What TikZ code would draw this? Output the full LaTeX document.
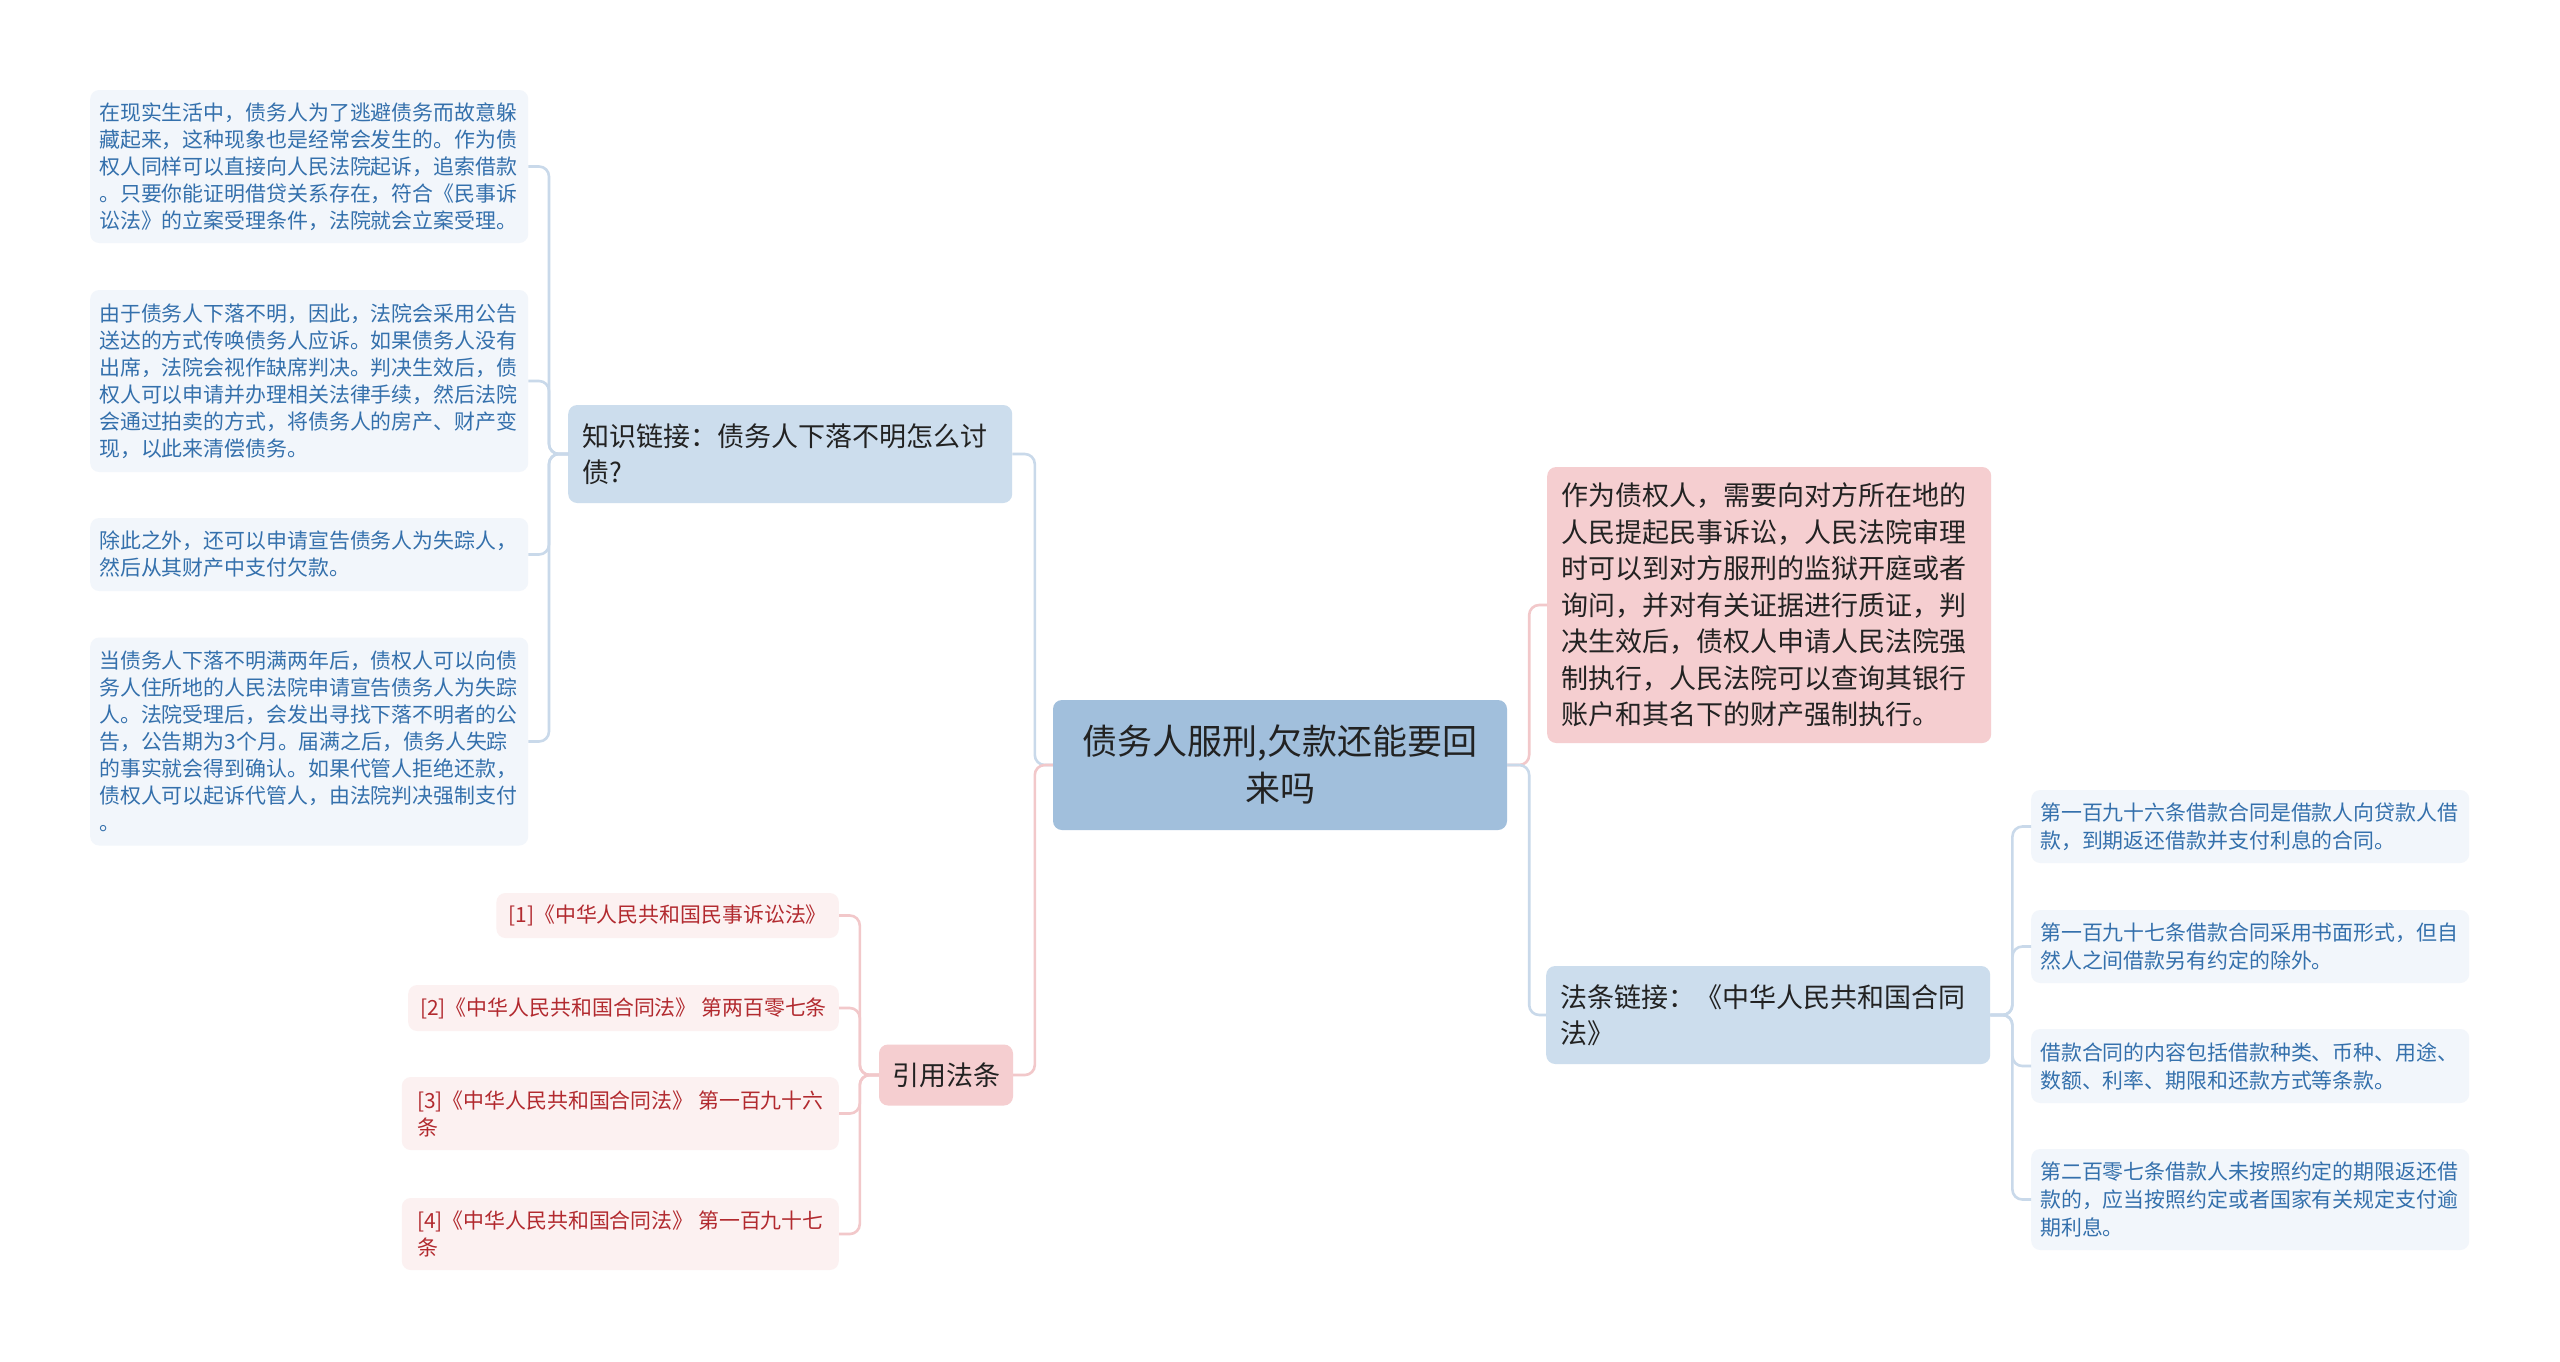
\documentclass[tikz,border=0pt]{standalone}
\usepackage{fontspec}
\newfontfamily\cjk{Noto Sans CJK SC}
\definecolor{rootfill}{HTML}{A1BFDC}
\definecolor{bluefill}{HTML}{CCDDED}
\definecolor{pinkfill}{HTML}{F5CED0}
\definecolor{leafblue}{HTML}{F2F6FB}
\definecolor{leafpink}{HTML}{FCF1F1}
\definecolor{bluetext}{HTML}{3470AC}
\definecolor{redtext}{HTML}{B22A2F}
\definecolor{maintext}{HTML}{222222}
\definecolor{blueline}{HTML}{C9D9EA}
\definecolor{pinkline}{HTML}{F2C8CA}
\tikzset{
  box/.style={rounded corners=9pt, inner ysep=0pt},
  mainbox/.style={box, text=maintext, font=\cjk\fontsize{27}{36.5}\selectfont, align=left, inner xsep=14pt, text width=416pt, anchor=west},
  leafL/.style={box, fill=leafblue, text=bluetext, font=\cjk\fontsize{20.9}{27}\selectfont, align=left, text width=420pt, inner xsep=9pt, anchor=west},
  leafR/.style={leafL, font=\cjk\fontsize{20.9}{28}\selectfont},
  leafP/.style={box, fill=leafpink, text=redtext, font=\cjk\fontsize{20.9}{27}\selectfont, align=left, inner xsep=12pt, anchor=east},
  bline/.style={draw=blueline, line width=2.6pt, rounded corners=10pt},
  pline/.style={draw=pinkline, line width=2.6pt, rounded corners=10pt},
}
\begin{document}
\begin{tikzpicture}[x=1pt,y=-1pt]
\useasboundingbox (0,0) rectangle (2560,1361);
\fill[white] (0,0) rectangle (2560,1361);

% root
\node[box, fill=rootfill, text=maintext, font=\cjk\fontsize{35}{47}\selectfont, align=center, minimum width=454pt, minimum height=130pt] (root) at (1280,765) {债务人服刑,欠款还能要回\\来吗};

% left main
\node[mainbox, fill=bluefill, minimum height=98pt] (kn) at (568,454) {知识链接：债务人下落不明怎么讨\\债?};
\node[box, fill=pinkfill, text=maintext, font=\cjk\fontsize{27}{36}\selectfont, minimum width=134pt, minimum height=61pt] (ref) at (946,1075) {引用法条};

% right main
\node[mainbox, fill=pinkfill, minimum height=276pt] (pk) at (1547,605) {作为债权人，需要向对方所在地的\\人民提起民事诉讼，人民法院审理\\时可以到对方服刑的监狱开庭或者\\询问，并对有关证据进行质证，判\\决生效后，债权人申请人民法院强\\制执行，人民法院可以查询其银行\\账户和其名下的财产强制执行。};
\node[mainbox, fill=bluefill, minimum height=98pt] (law) at (1546,1015) {法条链接：《中华人民共和国合同\\法》};

% left leaves
\node[leafL, minimum height=153pt] (L1) at (90,166.5) {在现实生活中，债务人为了逃避债务而故意躲\\藏起来，这种现象也是经常会发生的。作为债\\权人同样可以直接向人民法院起诉，追索借款\\。只要你能证明借贷关系存在，符合《民事诉\\讼法》的立案受理条件，法院就会立案受理。};
\node[leafL, minimum height=182pt] (L2) at (90,381) {由于债务人下落不明，因此，法院会采用公告\\送达的方式传唤债务人应诉。如果债务人没有\\出席，法院会视作缺席判决。判决生效后，债\\权人可以申请并办理相关法律手续，然后法院\\会通过拍卖的方式，将债务人的房产、财产变\\现，以此来清偿债务。};
\node[leafL, minimum height=73pt] (L3) at (90,554.5) {除此之外，还可以申请宣告债务人为失踪人，\\然后从其财产中支付欠款。};
\node[leafL, minimum height=208pt] (L4) at (90,741.5) {当债务人下落不明满两年后，债权人可以向债\\务人住所地的人民法院申请宣告债务人为失踪\\人。法院受理后，会发出寻找下落不明者的公\\告，公告期为3个月。届满之后，债务人失踪\\的事实就会得到确认。如果代管人拒绝还款，\\债权人可以起诉代管人，由法院判决强制支付\\。};

% ref leaves
\node[leafP, minimum height=45pt] (F1) at (839,915.5) {[1]《中华人民共和国民事诉讼法》};
\node[leafP, minimum height=46pt] (F2) at (839,1008) {[2]《中华人民共和国合同法》 第两百零七条};
\node[leafP, minimum height=73pt, minimum width=437pt] (F3) at (839,1113.5) {[3]《中华人民共和国合同法》 第一百九十六\\条};
\node[leafP, minimum height=72pt, minimum width=437pt] (F4) at (839,1234) {[4]《中华人民共和国合同法》 第一百九十七\\条};

% right leaves
\node[leafR, minimum height=73pt] (R1) at (2031,826.5) {第一百九十六条借款合同是借款人向贷款人借\\款，到期返还借款并支付利息的合同。};
\node[leafR, minimum height=73pt] (R2) at (2031,946.5) {第一百九十七条借款合同采用书面形式，但自\\然人之间借款另有约定的除外。};
\node[leafR, minimum height=74pt] (R3) at (2031,1066) {借款合同的内容包括借款种类、币种、用途、\\数额、利率、期限和还款方式等条款。};
\node[leafR, minimum height=101pt] (R4) at (2031,1199.5) {第二百零七条借款人未按照约定的期限返还借\\款的，应当按照约定或者国家有关规定支付逾\\期利息。};

% connectors: root
\draw[bline] (root.west) -- ++(-18,0) |- (kn.east);
\draw[pline] (root.west) -- ++(-18,0) |- (ref.east);
\draw[pline] (root.east) -- ++(22,0) |- (pk.west);
\draw[bline] (root.east) -- ++(22,0) |- (law.west);

% connectors: knowledge
\foreach \n in {L1,L2,L3,L4}
  \draw[bline] (kn.west) -- ++(-19,0) |- (\n.east);
% connectors: refs
\foreach \n in {F1,F2,F3,F4}
  \draw[pline] (ref.west) -- ++(-19,0) |- (\n.east);
% connectors: law
\foreach \n in {R1,R2,R3,R4}
  \draw[bline] (law.east) -- ++(22,0) |- (\n.west);
\end{tikzpicture}
\end{document}
